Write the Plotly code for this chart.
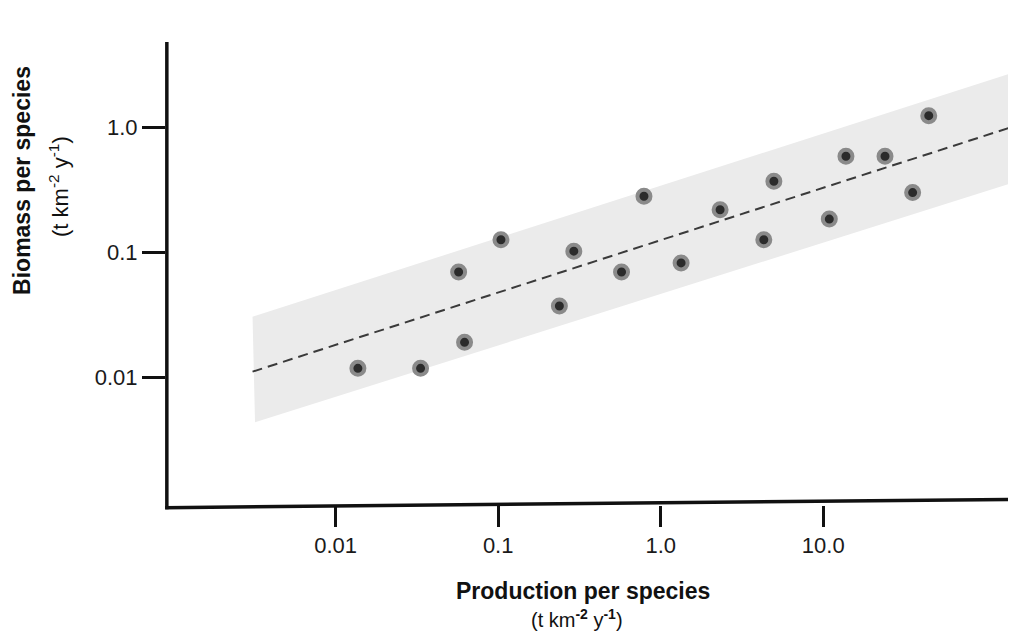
import plotly.graph_objects as go

# Data (log-log)
production = [0.0137, 0.0333, 0.0621, 0.0571, 0.104, 0.238, 0.292, 0.574, 0.789,
              1.335, 2.32, 4.31, 4.97, 10.9, 13.8, 24.0, 35.5, 44.6]
biomass = [0.0119, 0.0119, 0.0192, 0.0702, 0.127, 0.0375, 0.103, 0.0702, 0.283,
           0.0829, 0.221, 0.127, 0.373, 0.186, 0.592, 0.592, 0.303, 1.25]

# Regression line and its band
fit_x = [0.00308, 153.6]
fit_y = [0.01119, 1.039]
band_x = [0.00308, 153.6, 153.6, 0.00319]
band_y = [0.0308, 2.81, 0.370, 0.00441]

x_tickvals = [0.01, 0.1, 1, 10]
x_ticktext = ["0.01", "0.1", "1.0", "10.0"]
y_tickvals = [0.01, 0.1, 1]
y_ticktext = ["0.01", "0.1", "1.0"]

FONT = "Liberation Sans, Arial, Helvetica, sans-serif"

fig = go.Figure()
fig.add_trace(go.Scatter(x=band_x, y=band_y, fill="toself", fillcolor="#ebebeb",
                         line=dict(width=0), mode="lines", hoverinfo="skip",
                         showlegend=False))
fig.add_trace(go.Scatter(x=fit_x, y=fit_y, mode="lines",
                         line=dict(color="#3a3a3a", width=2, dash="10px,6px"),
                         showlegend=False))
fig.add_trace(go.Scatter(x=production, y=biomass, mode="markers",
                         marker=dict(size=13, color="#2b2b2b",
                                     line=dict(width=4, color="#8a8a8a")),
                         showlegend=False))

fig.update_layout(
    width=1000, height=623,
    margin=dict(l=158, r=0, t=34, b=126),
    paper_bgcolor="white", plot_bgcolor="white",
    font=dict(family=FONT, color="#1a1a1a"),
    xaxis=dict(type="log", range=[-3.044, 2.137], showgrid=False, zeroline=False,
               showline=False, ticks="outside", ticklen=21, tickwidth=3,
               tickcolor="#111", tickvals=x_tickvals, ticktext=x_ticktext,
               tickfont=dict(size=22, family=FONT, color="#1a1a1a")),
    yaxis=dict(type="log", range=[-3.018, 0.686], showgrid=False, zeroline=False,
               showline=False, ticks="outside", ticklen=23, tickwidth=3,
               tickcolor="#111", tickvals=y_tickvals, ticktext=y_ticktext,
               tickfont=dict(size=22, family=FONT, color="#1a1a1a")),
    shapes=[
        dict(type="line", xref="paper", yref="paper", x0=-0.001, x1=1.0,
             y0=-0.0058, y1=0.0121, line=dict(color="#111", width=3.5)),
        dict(type="line", xref="paper", yref="paper", x0=0.001, x1=0.001,
             y0=-0.009, y1=1.0, line=dict(color="#111", width=3.5)),
    ],
    annotations=[
        dict(text="<b>Production per species</b>", xref="paper", yref="paper",
             x=0.4952, y=-0.186, xanchor="center", yanchor="middle",
             showarrow=False, font=dict(size=23, family=FONT, color="#111")),
        dict(text="(t km<sup><b>-2</b></sup> y<sup><b>-1</b></sup>)", xref="paper",
             yref="paper", x=0.4881, y=-0.2452, xanchor="center", yanchor="middle",
             showarrow=False, font=dict(size=20, family=FONT, color="#111")),
        dict(text="<b>Biomass per species</b>", xref="paper", yref="paper",
             x=-0.171, y=0.70, xanchor="center", yanchor="middle", textangle=-90,
             showarrow=False, font=dict(size=23, family=FONT, color="#111")),
        dict(text="(t km<sup>-2</sup> y<sup>-1</sup>)", xref="paper", yref="paper",
             x=-0.1271, y=0.689, xanchor="center", yanchor="middle", textangle=-90,
             showarrow=False, font=dict(size=22, family=FONT, color="#111")),
    ],
)

fig.write_html("out.html")
